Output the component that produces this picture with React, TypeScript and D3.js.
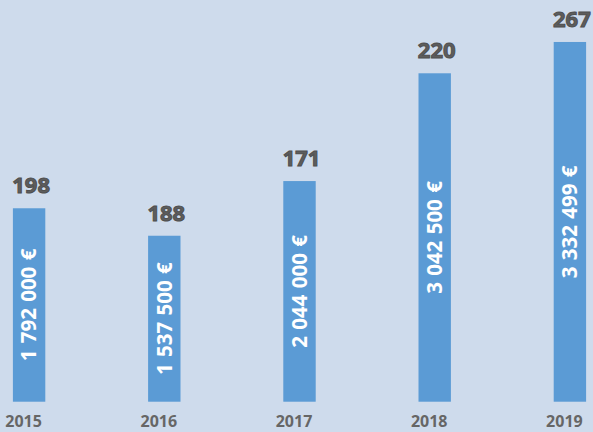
import React, { useEffect, useRef } from "react";
import * as d3 from "d3";

const years = ["2015", "2016", "2017", "2018", "2019"];
const amounts = [1792000, 1537500, 2044000, 3042500, 3332499];
const amountLabels = ["1 792 000 €", "1 537 500 €", "2 044 000 €", "3 042 500 €", "3 332 499 €"];
const counts = [198, 188, 171, 220, 267];

const W = 593;
const H = 432;

const App = () => {
  const ref = useRef<SVGSVGElement>(null);

  useEffect(() => {
    const svg = d3.select(ref.current);
    svg.selectAll("*").remove();

    svg.append("rect").attr("width", W).attr("height", H).attr("fill", "#cedbec");

    // category bands, bars sit slightly right of the band centre
    const x = d3.scaleBand().domain(years).range([-44, 632]).padding(0);
    const barW = 32.4;
    const barShift = 5.5;
    const y = d3.scaleLinear().domain([0, 3500000]).range([401.7, 23.9]);

    const cx = (i: number) => x(years[i])! + x.bandwidth() / 2;

    const g = svg.append("g").attr("font-family", "'Open Sans', sans-serif").attr("font-weight", 700);

    g.selectAll(".bar")
      .data(amounts)
      .enter()
      .append("rect")
      .attr("class", "bar")
      .attr("x", (d, i) => cx(i) + barShift - barW / 2)
      .attr("width", barW)
      .attr("y", (d) => y(d))
      .attr("height", (d) => y(0) - y(d))
      .attr("fill", "#5b9bd5");

    // amount labels, rotated inside the bars
    g.selectAll(".amount")
      .data(amounts)
      .enter()
      .append("text")
      .attr("class", "amount")
      .attr("transform", (d, i) => `translate(${cx(i) + barShift},${(y(d) + y(0)) / 2}) rotate(-90)`)
      .attr("text-anchor", "middle")
      .attr("dy", "0.36em")
      .attr("font-size", 20.5)
      .attr("word-spacing", 1)
      .attr("fill", "#ffffff")
      .text((d, i) => amountLabels[i]);

    // counts above the bars
    g.selectAll(".count")
      .data(counts)
      .enter()
      .append("text")
      .attr("class", "count")
      .attr("x", (d, i) => cx(i) + barShift + 2)
      .attr("y", (d, i) => y(amounts[i]) - 15)
      .attr("text-anchor", "middle")
      .attr("font-size", 22)
      .attr("fill", "#5d5d5d")
      .attr("stroke", "#4f4f4f")
      .attr("stroke-width", 1)
      .text((d) => d);

    // year labels
    g.selectAll(".year")
      .data(years)
      .enter()
      .append("text")
      .attr("class", "year")
      .attr("x", (d, i) => cx(i))
      .attr("y", 427)
      .attr("text-anchor", "middle")
      .attr("font-size", 16)
      .attr("fill", "#666666")
      .text((d) => d);
  }, []);

  return (
    <svg
      ref={ref}
      width={W}
      height={H}
      style={{ position: "absolute", left: 0, top: 0, display: "block" }}
    />
  );
};

export default App;
